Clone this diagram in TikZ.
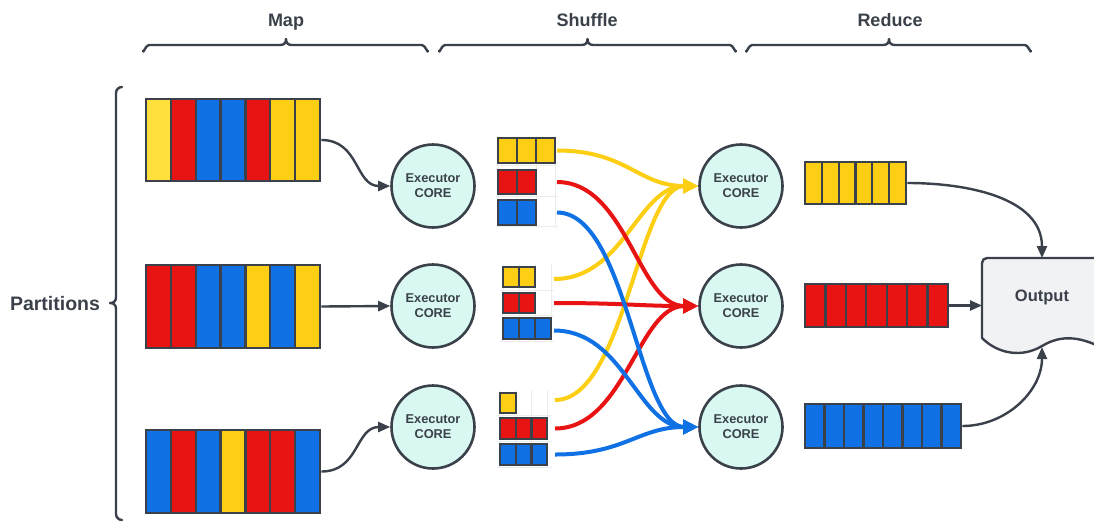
\documentclass[tikz,border=0pt]{standalone}
\usepackage{fontspec}
\setmainfont{Liberation Sans}
\usetikzlibrary{arrows.meta,calc}

\definecolor{ink}{HTML}{3A414A}
\definecolor{gold}{HTML}{FCCE14}
\definecolor{lemon}{HTML}{FFE03D}
\definecolor{crimson}{HTML}{E81414}
\definecolor{azure}{HTML}{1071E5}
\definecolor{mint}{HTML}{D8F8F1}
\definecolor{paper}{HTML}{F1F2F4}
\definecolor{faint}{HTML}{ECECEC}

% a row of coloured cells: left x, top y, cell width, height, colour list
\newcommand{\cellrow}[5]{%
  \foreach \c [count=\i from 0] in {#5}{%
    \filldraw[cellbox, fill=\c] ({#1+\i*#3},#2) rectangle ++(#3,#4);}}

\tikzset{
  cellbox/.style={draw=ink, line width=2.2pt},
  frame/.style={draw=ink, line width=2.8pt, inner sep=0pt, fill=none},
  exec/.style={circle, draw=ink, fill=mint, line width=2.6pt, minimum size=83pt,
    inner sep=0pt, align=center, text=ink,
    font=\fontsize{12.8}{15}\selectfont\bfseries},
  link/.style={draw=ink, line width=2.4pt, -{Triangle[length=12pt,width=10pt]}},
  flow/.style={line width=4pt, -{Triangle[length=15pt,width=14pt]}},
  brace/.style={draw=ink, line width=2.4pt, line cap=round, line join=round},
  head/.style={text=ink, anchor=base, font=\fontsize{18}{20}\selectfont\bfseries},
  gridline/.style={draw=faint, line width=1pt},
}

\begin{document}
\begin{tikzpicture}[x=1pt, y=-1pt]
\useasboundingbox (0,0) rectangle (1094,523);
\clip (0,0) rectangle (1094,523);
\fill[white] (0,0) rectangle (1094,523);

% stage headings and braces
\node[head] (hmap) at (286,26) {Map};
\node[head] (hshuf) at (587,26) {Shuffle};
\node[head] (hred) at (890,26) {Reduce};
\foreach \a/\m/\b in {143/286/428, 439/587.5/736, 746/889/1031}{
  \draw[brace] (\a,51) to[out=-90,in=180] (\a+6,45) -- (\m-6,45)
    .. controls (\m-2,45) and (\m,43) .. (\m,39)
    .. controls (\m,43) and (\m+2,45) .. (\m+6,45) -- (\b-6,45)
    to[out=0,in=-90] (\b,51);
}

% partitions brace
\node[text=ink, anchor=base, font=\fontsize{19.5}{22}\selectfont\bfseries] (parts) at (55,310) {Partitions};
\draw[brace] (122,87) to[out=180,in=90] (116,93) -- (116,297)
  .. controls (116,301) and (114,303) .. (110,303)
  .. controls (114,303) and (116,305) .. (116,309) -- (116,514)
  to[out=-90,in=180] (122,520);

% map partitions
\cellrow{146}{99}{24.857}{82}{lemon,crimson,azure,azure,crimson,gold,gold}
\cellrow{146}{265}{24.857}{83}{crimson,crimson,azure,azure,gold,azure,gold}
\cellrow{146}{430}{24.857}{83}{azure,crimson,azure,gold,crimson,crimson,azure}
\node[frame, minimum width=174pt, minimum height=82pt] (m1) at (233,140) {};
\node[frame, minimum width=174pt, minimum height=83pt] (m2) at (233,306.5) {};
\node[frame, minimum width=174pt, minimum height=83pt] (m3) at (233,471.5) {};

% executors
\node[exec] (e1) at (433,186) {Executor\\CORE};
\node[exec] (e2) at (433,306) {Executor\\CORE};
\node[exec] (e3) at (433,427) {Executor\\CORE};
\node[exec] (e4) at (741,186) {Executor\\CORE};
\node[exec] (e5) at (741,306) {Executor\\CORE};
\node[exec] (e6) at (741,427) {Executor\\CORE};

\draw[link] (m1.east) .. controls +(38,0) and +(-35,0) .. (e1.west);
\draw[link] (m2.east) -- (e2.west);
\draw[link] (m3.east) .. controls +(38,0) and +(-35,0) .. (e3.west);

% shuffle grid
\foreach \x in {498,517.3,536.6,555.9} \draw[gridline] (\x,136) -- (\x,228);
\foreach \y in {165,196,226} \draw[gridline] (496,\y) -- (558,\y);
\foreach \x in {503,519,535,551} \draw[gridline] (\x,264) -- (\x,342);
\foreach \y in {290,315,341} \draw[gridline] (500,\y) -- (554,\y);
\foreach \x in {500,515.7,531.4,547.1} \draw[gridline] (\x,390) -- (\x,468);
\foreach \y in {415,441,467} \draw[gridline] (497,\y) -- (552,\y);

% shuffle blocks
\cellrow{498}{138}{19}{25}{gold,gold,gold}
\cellrow{498}{170}{19}{24}{crimson,crimson}
\cellrow{498}{200}{19}{25}{azure,azure}
\cellrow{503}{267}{16}{20}{gold,gold}
\cellrow{503}{293}{16}{20}{crimson,crimson}
\cellrow{503}{318}{16}{21}{azure,azure,azure}
\cellrow{500}{393}{16}{20}{gold}
\cellrow{500}{418}{15.7}{21}{crimson,crimson,crimson}
\cellrow{500}{444}{15.7}{21}{azure,azure,azure}
\node[frame, minimum width=57pt, minimum height=25pt] (s1y) at (526.5,150.5) {};
\node[frame, minimum width=38pt, minimum height=24pt] (s1r) at (517,182) {};
\node[frame, minimum width=38pt, minimum height=25pt] (s1b) at (517,212.5) {};
\node[frame, minimum width=32pt, minimum height=20pt] (s2y) at (519,277) {};
\node[frame, minimum width=32pt, minimum height=20pt] (s2r) at (519,303) {};
\node[frame, minimum width=48pt, minimum height=21pt] (s2b) at (527,328.5) {};
\node[frame, minimum width=16pt, minimum height=20pt] (s3y) at (508,403) {};
\node[frame, minimum width=47pt, minimum height=21pt] (s3r) at (523.5,428.5) {};
\node[frame, minimum width=47pt, minimum height=21pt] (s3b) at (523.5,454.5) {};

\coordinate (g1) at (557,0);
\coordinate (g2) at (554,0);
\coordinate (g3) at (555,0);

% shuffle flows
\draw[flow, gold] (s1y -| g1) .. controls +(70,0) and +(-60,0) .. (e4.west);
\draw[flow, gold] ($(s2y -| g2)+(0,2)$) .. controls +(70,0) and +(-60,0) .. (e4.west);
\draw[flow, gold] ($(s3y -| g3)+(0,-3)$) .. controls +(70,0) and +(-60,0) .. (e4.west);
\draw[flow, crimson] (s1r -| g1) .. controls +(70,0) and +(-60,0) .. (e5.west);
\draw[flow, crimson] (s2r -| g2) .. controls +(70,0) and +(-60,0) .. (e5.west);
\draw[flow, crimson] (s3r -| g3) .. controls +(70,0) and +(-60,0) .. (e5.west);
\draw[flow, azure] (s1b -| g1) .. controls +(70,0) and +(-60,0) .. (e6.west);
\draw[flow, azure] ($(s2b -| g2)+(0,2)$) .. controls +(70,0) and +(-60,0) .. (e6.west);
\draw[flow, azure] (s3b -| g3) .. controls +(70,0) and +(-60,0) .. (e6.west);

% reduce partitions
\cellrow{805}{162}{16.833}{42}{gold,gold,gold,gold,gold,gold}
\cellrow{805}{284}{20.43}{43}{crimson,crimson,crimson,crimson,crimson,crimson,crimson}
\cellrow{805}{404}{19.5}{44}{azure,azure,azure,azure,azure,azure,azure,azure}
\node[frame, minimum width=101pt, minimum height=42pt] (r1) at (855.5,183) {};
\node[frame, minimum width=143pt, minimum height=43pt] (r2) at (876.5,305.5) {};
\node[frame, minimum width=156pt, minimum height=44pt] (r3) at (883,426) {};

% output document
\filldraw[draw=ink, fill=paper, line width=2.4pt, line join=round]
  (982,338) -- (982,263) to[out=90,in=180] (987,258) -- (1110,258) -- (1110,352)
  .. controls (1082,336) and (1062,334) .. (1042,346)
  .. controls (1022,358) and (998,354) .. (982,338) -- cycle;
\node[text=ink, font=\fontsize{16.5}{18}\selectfont\bfseries] (out) at (1042,297) {Output};
\coordinate (outN) at (1042,258);
\coordinate (outW) at (982,305.5);
\coordinate (outS) at (1042,347);

\draw[link] (r1.east) to[out=0,in=90] (outN);
\draw[link] (r2.east) -- (outW);
\draw[link] (r3.east) to[out=0,in=-90] (outS);
\end{tikzpicture}
\end{document}
